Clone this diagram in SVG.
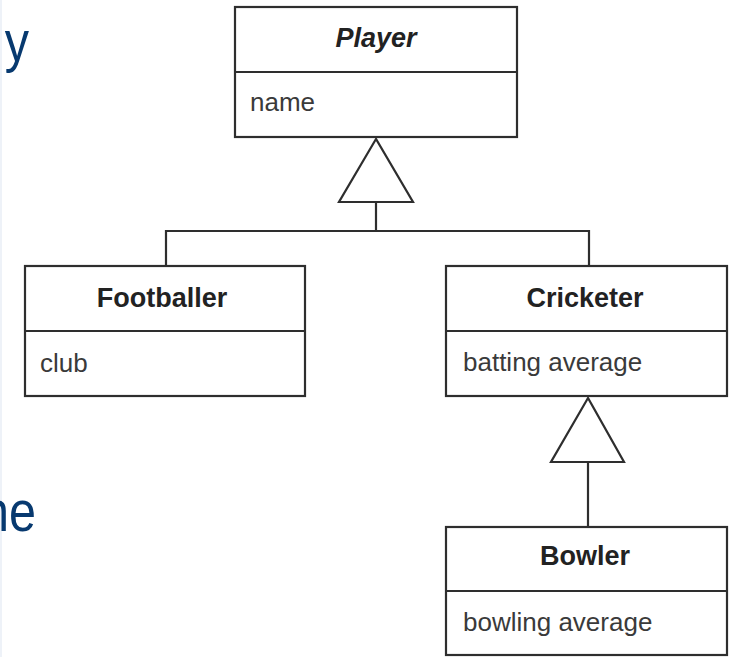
<svg xmlns="http://www.w3.org/2000/svg" width="729" height="657" viewBox="0 0 729 657">
  <style>
    .box { fill: #ffffff; stroke: #2e2e2e; stroke-width: 2.2; }
    .div { stroke: #2e2e2e; stroke-width: 2.2; }
    .title { font-family: "Liberation Sans", Arial, sans-serif; font-size: 27px; font-weight: bold; fill: #222; text-anchor: middle; }
    .attr { font-family: "Liberation Sans", Arial, sans-serif; font-size: 26px; fill: #3a3a3a; }
    .link { fill: none; stroke: #2e2e2e; stroke-width: 2.2; }
    .head { fill: #ffffff; stroke: #2e2e2e; stroke-width: 2.2; stroke-linejoin: miter; }
    .slide { font-family: "Liberation Sans", Arial, sans-serif; font-size: 57px; fill: #07396f; text-anchor: end; }
  </style>
  <rect width="729" height="657" fill="#ffffff"/>
  <line x1="1" y1="0" x2="1" y2="657" stroke="#eef2f8" stroke-width="2"/>

  <!-- clipped slide text on the left -->
  <text class="slide" transform="translate(29,61) scale(0.85,1)" x="0" y="0">y</text>
  <text class="slide" transform="translate(36,531) scale(0.85,1)" x="0" y="0">ne</text>

  <!-- generalization connectors -->
  <g id="connectors">
    <polyline class="link" points="166,266 166,231 589,231 589,266"/>
    <line class="link" x1="376" y1="202" x2="376" y2="231"/>
    <polygon class="head" points="376,139 339,202 413,202"/>
    <line class="link" x1="588" y1="462" x2="588" y2="527"/>
    <polygon class="head" points="588,398 551,462 624,462"/>
  </g>

  <g id="player">
    <rect class="box" x="235" y="7" width="282" height="130"/>
    <line class="div" x1="235" y1="72" x2="517" y2="72"/>
    <text class="title" x="376" y="47" font-style="italic">Player</text>
    <text class="attr" x="250" y="111">name</text>
  </g>

  <g id="footballer">
    <rect class="box" x="25" y="266" width="280" height="130"/>
    <line class="div" x1="25" y1="331" x2="305" y2="331"/>
    <text class="title" x="162" y="307">Footballer</text>
    <text class="attr" x="40" y="372">club</text>
  </g>

  <g id="cricketer">
    <rect class="box" x="446" y="266" width="281" height="130"/>
    <line class="div" x1="446" y1="331" x2="727" y2="331"/>
    <text class="title" x="585" y="307">Cricketer</text>
    <text class="attr" x="463" y="371">batting average</text>
  </g>

  <g id="bowler">
    <rect class="box" x="446" y="527" width="281" height="128"/>
    <line class="div" x1="446" y1="591" x2="727" y2="591"/>
    <text class="title" x="585" y="565">Bowler</text>
    <text class="attr" x="463" y="631">bowling average</text>
  </g>
</svg>
